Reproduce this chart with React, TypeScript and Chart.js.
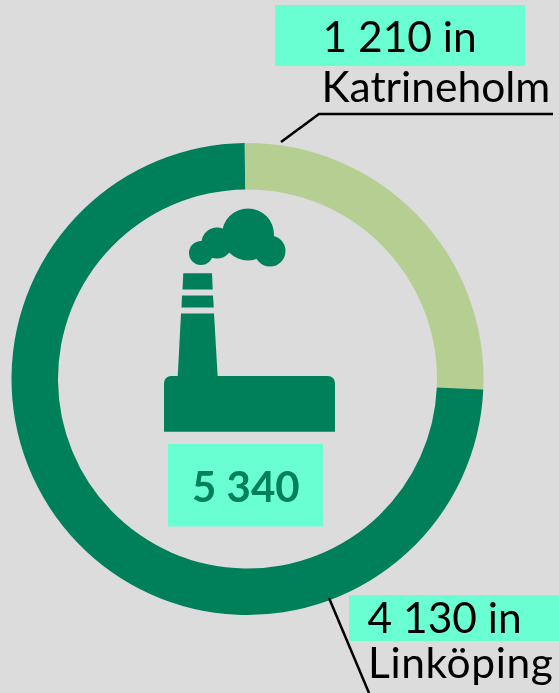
import React, { useEffect, useRef } from "react";
import { Chart, registerables } from "chart.js";

Chart.register(...registerables);

const categories = ["Katrineholm", "Linköping"];
const drawnShares = [25.9, 74.1];
const valueLabels = ["1 210 in", "4 130 in"];
const totalLabel = "5 340";

const DARK = "#007F5B";
const LIGHT = "#B5CF93";
const BOX = "#69FFD2";
const FONT = "Lato, 'Noto Sans', sans-serif";

const overlay = {
  id: "overlay",
  afterDraw(chart: any) {
    const c = chart.ctx as CanvasRenderingContext2D;
    c.save();
    // factory icon
    c.fillStyle = DARK;
    const circles = [[248, 234.5, 26], [201, 253, 12], [217, 243, 15.5], [270, 251, 15.5]];
    circles.forEach(([x, y, r]) => {
      c.beginPath();
      c.arc(x, y, r, 0, Math.PI * 2);
      c.fill();
    });
    const polys = [
      [[183.3, 273.3], [212, 273.3], [212.7, 289.5], [182.5, 289.5]],
      [[182, 295.5], [213, 295.5], [213.7, 307.5], [181.5, 307.5]],
      [[181, 313.5], [214, 313.5], [217.7, 377], [177.7, 377]],
    ];
    polys.forEach((p) => {
      c.beginPath();
      p.forEach(([x, y], i) => (i ? c.lineTo(x, y) : c.moveTo(x, y)));
      c.closePath();
      c.fill();
    });
    c.beginPath();
    c.roundRect(164, 376, 171, 55.7, [7, 7, 0, 0]);
    c.fill();

    // label boxes
    c.fillStyle = BOX;
    c.fillRect(275, 5, 250, 61);
    c.fillRect(349, 595, 210, 46);
    c.fillRect(168, 444, 155, 82.5);

    // leader lines
    c.strokeStyle = "#000";
    c.lineWidth = 2.5;
    c.beginPath();
    c.moveTo(281, 142);
    c.lineTo(319, 114);
    c.lineTo(553, 114);
    c.moveTo(329, 598);
    c.lineTo(369, 693);
    c.stroke();

    // text
    c.textBaseline = "alphabetic";
    c.textAlign = "left";
    c.fillStyle = "#000";
    c.font = `42.5px ${FONT}`;
    c.fillText(valueLabels[0], 322.5, 52);
    c.fillText(categories[0], 321.5, 102);
    c.fillText(valueLabels[1], 367.5, 633);
    (c as any).letterSpacing = "0.6px";
    c.fillText(categories[1], 368, 678);
    (c as any).letterSpacing = "0px";
    c.fillStyle = DARK;
    c.font = `bold 42px ${FONT}`;
    c.fillText(totalLabel, 192, 502);
    c.restore();
  },
};

export default function App() {
  const ref = useRef<HTMLCanvasElement>(null);
  useEffect(() => {
    document.body.style.margin = "0";
    document.body.style.background = "#DCDCDC";
    const chart = new Chart(ref.current!, {
      type: "doughnut",
      data: {
        labels: categories,
        datasets: [
          {
            data: drawnShares,
            backgroundColor: [LIGHT, DARK],
            borderWidth: 0,
          },
        ],
      },
      options: {
        responsive: false,
        animation: false,
        cutout: 189.5,
        rotation: -0.7,
        layout: { padding: { left: 11.5, right: 75.5, top: 143, bottom: 78 } },
        plugins: { legend: { display: false }, tooltip: { enabled: false } },
      },
      plugins: [overlay],
    });
    return () => chart.destroy();
  }, []);
  return <canvas ref={ref} width={559} height={693} style={{ display: "block" }} />;
}
